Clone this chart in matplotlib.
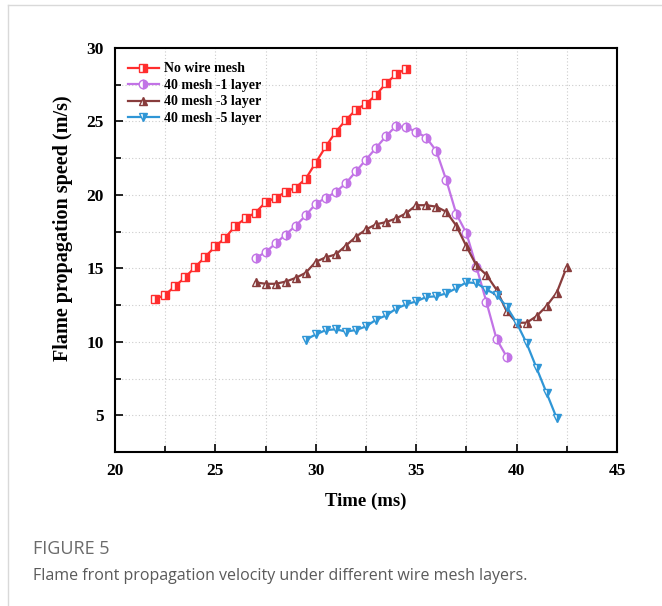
import matplotlib
matplotlib.use("Agg")
from matplotlib import pyplot as plt
from matplotlib.lines import Line2D
from matplotlib.ticker import MultipleLocator

# data (time in ms, speed in m/s)
t_none = [22.0, 22.5, 23.0, 23.5, 24.0, 24.5, 25.0, 25.5, 26.0, 26.5, 27.0, 27.5, 28.0,
          28.5, 29.0, 29.5, 30.0, 30.5, 31.0, 31.5, 32.0, 32.5, 33.0, 33.5, 34.0, 34.5]
v_none = [12.9, 13.2, 13.8, 14.4, 15.1, 15.8, 16.5, 17.1, 17.9, 18.4, 18.8, 19.5, 19.8,
          20.2, 20.5, 21.1, 22.2, 23.3, 24.3, 25.1, 25.8, 26.2, 26.8, 27.6, 28.2, 28.6]

t_1 = [27.0, 27.5, 28.0, 28.5, 29.0, 29.5, 30.0, 30.5, 31.0, 31.5, 32.0, 32.5, 33.0,
       33.5, 34.0, 34.5, 35.0, 35.5, 36.0, 36.5, 37.0, 37.5, 38.0, 38.5, 39.0, 39.5]
v_1 = [15.7, 16.1, 16.7, 17.3, 17.9, 18.6, 19.4, 19.8, 20.2, 20.8, 21.6, 22.4, 23.2,
       24.0, 24.7, 24.6, 24.3, 23.9, 23.0, 21.0, 18.7, 17.4, 15.1, 12.7, 10.2, 9.0]

t_3 = [27.0, 27.5, 28.0, 28.5, 29.0, 29.5, 30.0, 30.5, 31.0, 31.5, 32.0, 32.5, 33.0,
       33.5, 34.0, 34.5, 35.0, 35.5, 36.0, 36.5, 37.0, 37.5, 38.0, 38.5, 39.0, 39.5,
       40.0, 40.5, 41.0, 41.5, 42.0, 42.5]
v_3 = [14.05, 13.95, 13.95, 14.1, 14.35, 14.7, 15.45, 15.75, 15.95, 16.55, 17.15, 17.65, 18.0,
       18.15, 18.4, 18.75, 19.3, 19.3, 19.2, 18.85, 17.9, 16.5, 15.2, 14.55, 13.55, 12.1,
       11.3, 11.3, 11.75, 12.45, 13.35, 15.1]

t_5 = [29.5, 30.0, 30.5, 31.0, 31.5, 32.0, 32.5, 33.0, 33.5, 34.0, 34.5, 35.0, 35.5,
       36.0, 36.5, 37.0, 37.5, 38.0, 38.5, 39.0, 39.5, 40.0, 40.5, 41.0, 41.5, 42.0]
v_5 = [10.15, 10.5, 10.8, 10.85, 10.7, 10.8, 11.05, 11.5, 11.8, 12.25, 12.55, 12.75, 13.05,
       13.1, 13.3, 13.65, 14.05, 14.0, 13.55, 13.2, 12.4, 11.3, 9.9, 8.2, 6.5, 4.8]

labels = ["No wire mesh", "40 mesh -1 layer", "40 mesh -3 layer", "40 mesh -5 layer"]

serif = "Liberation Serif"

fig = plt.figure(figsize=(6.62, 6.06), dpi=100)
ax = fig.add_axes([0.1737, 0.2541, 0.7583, 0.6667])

series = [
    (t_none, v_none, "#ff2d2d", "s"),
    (t_1, v_1, "#c273e6", "o"),
    (t_3, v_3, "#883c3c", "^"),
    (t_5, v_5, "#2f96d6", "v"),
]
for (t, v, c, m), lab in zip(series, labels):
    ax.plot(t, v, color=c, lw=1.6, marker=m, markersize=6.2, fillstyle="right",
            markerfacecoloralt="white", markeredgecolor=c, markeredgewidth=1.0,
            label=lab)

ax.set_xlim(20, 45)
ax.set_ylim(2.5, 30)
ax.xaxis.set_major_locator(MultipleLocator(5))
ax.xaxis.set_minor_locator(MultipleLocator(2.5))
ax.yaxis.set_major_locator(MultipleLocator(5))
ax.yaxis.set_minor_locator(MultipleLocator(2.5))
ax.tick_params(which="both", direction="in", top=False, right=False, width=1.2)
ax.tick_params(which="major", length=6, labelsize=12.5, pad=8)
ax.tick_params(which="minor", length=4)
ax.grid(True, which="both", color="#cccccc", ls=(0, (1, 2)), lw=0.8)
ax.set_axisbelow(True)
for sp in ax.spines.values():
    sp.set_linewidth(1.5)
for lbl in ax.get_xticklabels() + ax.get_yticklabels():
    lbl.set_fontfamily(serif)
    lbl.set_fontweight("bold")

ax.set_xlabel("Time (ms)", fontfamily=serif, fontweight="bold", fontsize=13.5, labelpad=10)
ax.set_ylabel("Flame propagation speed (m/s)", fontfamily=serif, fontweight="bold",
              fontsize=14.5)
ax.yaxis.set_label_coords(-0.084, 0.555)

ax.legend(loc="upper left", frameon=False, prop={"family": serif, "weight": "bold", "size": 10},
          handlelength=2.2, handletextpad=0.4, labelspacing=0.25,
          borderaxespad=0.0, bbox_to_anchor=(0.015, 0.978))

# card border and caption
fig.add_artist(Line2D([0.012, 0.012], [0.0, 0.992], transform=fig.transFigure,
                      color="#d9d9d9", lw=1))
fig.add_artist(Line2D([0.012, 1.0], [0.992, 0.992], transform=fig.transFigure,
                      color="#d9d9d9", lw=1))
fig.text(0.05, 0.094, "FIGURE 5", fontfamily="Open Sans", fontsize=13, color="#6b6b6b",
         va="center")
fig.text(0.05, 0.05, "Flame front propagation velocity under different wire mesh layers.",
         fontfamily="Open Sans", fontsize=11.5, color="#5a5a5a", va="center")

fig.savefig("out.png", dpi=100)
